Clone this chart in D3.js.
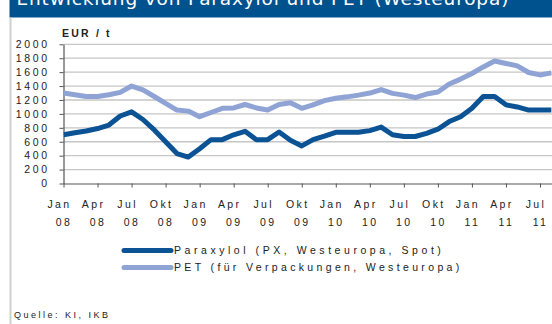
<!DOCTYPE html>
<html>
<head>
<meta charset="utf-8">
<script src="https://cdn.jsdelivr.net/npm/d3@7"></script>
<style>
  html, body { margin: 0; padding: 0; background: #fff; }
  svg { display: block; font-family: "Liberation Sans", Arial, sans-serif; }
</style>
</head>
<body>
<svg id="chart" width="552" height="324"></svg>
<script>
// Monthly prices, EUR per tonne, Jan 2008 - Aug 2011
const months = d3.range(44); // 0 = Jan 08
const paraxylol = [700, 730, 755, 790, 840, 970, 1030, 920, 770, 600, 430, 380,
                   500, 630, 630, 700, 750, 630, 630, 740, 620, 540, 630, 680,
                   735, 735, 735, 760, 810, 700, 675, 675, 720, 780, 890, 960,
                   1080, 1250, 1250, 1130, 1100, 1055, 1055, 1055];
const pet = [1300, 1275, 1250, 1250, 1275, 1310, 1400, 1345, 1250, 1150, 1055, 1040,
             960, 1020, 1080, 1085, 1135, 1085, 1055, 1135, 1160, 1080, 1130, 1190,
             1225, 1245, 1270, 1300, 1350, 1295, 1270, 1235, 1285, 1315, 1430, 1500,
             1580, 1675, 1760, 1725, 1690, 1595, 1560, 1590];
const tickMonths = [0, 3, 6, 9, 12, 15, 18, 21, 24, 27, 30, 33, 36, 39, 42];
const tickTop = ["Jan", "Apr", "Jul", "Okt", "Jan", "Apr", "Jul", "Okt", "Jan", "Apr", "Jul", "Okt", "Jan", "Apr", "Jul"];
const tickBottom = ["08", "08", "08", "08", "09", "09", "09", "09", "10", "10", "10", "10", "11", "11", "11"];
const yTicks = [0, 200, 400, 600, 800, 1000, 1200, 1400, 1600, 1800, 2000];
const seriesNames = ["Paraxylol (PX, Westeuropa, Spot)", "PET (für Verpackungen, Westeuropa)"];
const seriesColors = ["#0b5394", "#8fa3d5"];

const svg = d3.select("#chart");

// header band
svg.append("rect").attr("x", 9.5).attr("y", 0).attr("width", 543).attr("height", 17.5).attr("fill", "#00528f");
svg.append("text").attr("x", 16.5).attr("y", 4.5).attr("fill", "#fff")
  .attr("font-size", 18.5).attr("letter-spacing", 0.85).attr("font-family", "'DejaVu Sans', sans-serif")
  .text("Entwicklung von Paraxylol und PET (Westeuropa)");

// left frame line
svg.append("line").attr("x1", 10.5).attr("x2", 10.5).attr("y1", 17.5).attr("y2", 324)
  .attr("stroke", "#d0d0d0").attr("stroke-width", 2);

const x0 = 63.5, y0 = 183.5, yTop = 44.3;
const x = d3.scaleLinear().domain([0, 42]).range([x0, 540]);
const y = d3.scaleLinear().domain([0, 2000]).range([y0, yTop]);

// grid
svg.append("g").selectAll("line").data(yTicks.filter(v => v > 0)).join("line")
  .attr("x1", x0).attr("x2", 552).attr("y1", d => y(d)).attr("y2", d => y(d))
  .attr("stroke", "#c6c6c6").attr("stroke-width", 1.3);

// y axis
const yAxis = svg.append("g").attr("transform", `translate(${x0},0)`)
  .call(d3.axisLeft(y).tickValues(yTicks).tickSize(4).tickSizeOuter(0).tickPadding(0).tickFormat(d3.format("d")));
yAxis.select(".domain").attr("stroke", "#555").attr("stroke-width", 1.2);
yAxis.selectAll(".tick line").attr("stroke", "#555");
yAxis.selectAll(".tick text").remove();
svg.append("g").selectAll("text").data(yTicks).join("text")
  .attr("x", 47).attr("y", d => y(d) + 3.8).attr("text-anchor", "end")
  .attr("font-size", 10.5).attr("fill", "#222").attr("letter-spacing", 2.6)
  .attr("dx", 2.6) // end anchor with letter-spacing leaves a trailing gap
  .text(d => d);

// x axis
const xAxis = svg.append("g").attr("transform", `translate(0,${y0})`)
  .call(d3.axisBottom(x).tickValues(tickMonths).tickSize(4).tickSizeOuter(0).tickFormat(""));
xAxis.select(".domain").attr("d", `M${x0},0.5H552`).attr("stroke", "#555").attr("stroke-width", 1.2);
xAxis.selectAll(".tick line").attr("stroke", "#555");

const lbl = svg.append("g").attr("font-size", 10.5).attr("fill", "#222").attr("letter-spacing", 2.4);
lbl.selectAll("text.top").data(tickMonths).join("text").attr("class", "top")
  .attr("x", d => x(d) - 4).attr("y", 208).attr("text-anchor", "middle")
  .text((d, i) => tickTop[i]);
lbl.selectAll("text.bot").data(tickMonths).join("text").attr("class", "bot")
  .attr("x", d => x(d) + 0.5).attr("y", 226).attr("text-anchor", "middle")
  .text((d, i) => tickBottom[i]);

// "EUR / t"
svg.append("text").attr("x", 62).attr("y", 37).attr("font-size", 10.5).attr("font-weight", "bold")
  .attr("letter-spacing", 2.2).attr("fill", "#222").text("EUR / t");

// lines
const line = d3.line().x((d, i) => x(months[i])).y(d => y(d)).curve(d3.curveLinear);
svg.append("clipPath").attr("id", "plotClip").append("rect")
  .attr("x", x0).attr("y", 20).attr("width", 552 - x0).attr("height", 170);
[[pet, seriesColors[1]], [paraxylol, seriesColors[0]]].forEach(([s, c]) => {
  svg.append("path").datum(s).attr("d", line)
    .attr("fill", "none").attr("stroke", c)
    .attr("stroke-width", 5).attr("stroke-linejoin", "round")
    .attr("clip-path", "url(#plotClip)");
});

// legend
const legY = [250.5, 267.5];
const legSpacing = [3.55, 3.35];
seriesNames.forEach((name, i) => {
  svg.append("line").attr("x1", 124).attr("x2", 171).attr("y1", legY[i]).attr("y2", legY[i])
    .attr("stroke", seriesColors[i]).attr("stroke-width", 5).attr("stroke-linecap", "round");
  svg.append("text").attr("x", 174).attr("y", legY[i] + 3.8).attr("font-size", 10.5)
    .attr("letter-spacing", legSpacing[i]).attr("fill", "#222").text(name);
});

// source note
svg.append("text").attr("x", 14).attr("y", 317.5).attr("font-size", 9).attr("letter-spacing", 2.5)
  .attr("fill", "#222").text("Quelle: KI, IKB");
</script>
</body>
</html>
